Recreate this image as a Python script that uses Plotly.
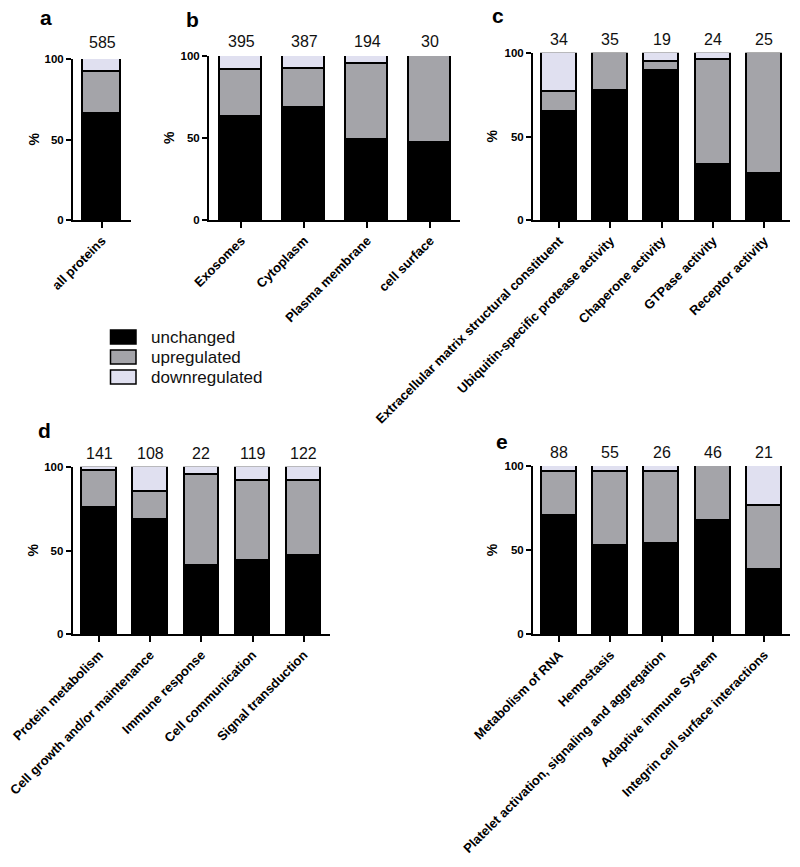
import plotly.graph_objects as go

W, H = 800, 867

# ---------------- data ----------------
series_names = ["unchanged", "upregulated", "downregulated"]

cats_a = ["all proteins"]
n_a = [585]
unch_a = [65.8]
up_a = [25.9]
down_a = [8.3]

cats_b = ["Exosomes", "Cytoplasm", "Plasma membrane", "cell surface"]
n_b = [395, 387, 194, 30]
unch_b = [62.8, 68.5, 48.8, 46.8]
up_b = [28.5, 23.4, 46.1, 53.2]
down_b = [8.7, 8.1, 5.1, 0]

cats_c = ["Extracellular matrix structural constituent",
          "Ubiquitin-specific protease activity",
          "Chaperone activity", "GTPase activity", "Receptor activity"]
n_c = [34, 35, 19, 24, 25]
unch_c = [64.7, 77.1, 89.5, 33.3, 28.0]
up_c = [11.8, 22.9, 5.3, 62.5, 72.0]
down_c = [23.5, 0, 5.2, 4.2, 0]

cats_d = ["Protein metabolism", "Cell growth and/or maintenance",
          "Immune response", "Cell communication", "Signal transduction"]
n_d = [141, 108, 22, 119, 122]
unch_d = [75.4, 68.6, 40.9, 44.1, 47.1]
up_d = [22.0, 16.5, 54.6, 47.5, 44.5]
down_d = [2.6, 14.9, 4.5, 8.4, 8.4]

cats_e = ["Metabolism of RNA", "Hemostasis",
          "Platelet activation, signaling and aggregation",
          "Adaptive immune System", "Integrin cell surface interactions"]
n_e = [88, 55, 26, 46, 21]
unch_e = [70.5, 52.7, 53.8, 67.4, 38.1]
up_e = [26.1, 43.7, 42.4, 32.6, 38.1]
down_e = [3.4, 3.6, 3.8, 0, 23.8]

panel_letters = ["a", "b", "c", "d", "e"]

# ---------------- style / layout ----------------
COLORS = ["#000000", "#a4a4a9", "#e0e0f0"]
FONT = "Arial, 'Liberation Sans', sans-serif"


def px_x(v):
    return v / W


def px_y(v):
    return 1 - v / H


panels = [
    dict(cats=cats_a, n=n_a, vals=[unch_a, up_a, down_a], xpx=(73, 131), ypx=(59, 220),
         xr=[-0.76, 0.76], bw=1.0, letter=(46, 17), pct=33, cnt_y=42.5),
    dict(cats=cats_b, n=n_b, vals=[unch_b, up_b, down_b], xpx=(209, 460), ypx=(56, 220),
         xr=[-0.51, 3.47], bw=0.667, letter=(192, 20), pct=169, cnt_y=41),
    dict(cats=cats_c, n=n_c, vals=[unch_c, up_c, down_c], xpx=(533, 790), ypx=(52.7, 220.3),
         xr=[-0.51, 4.5], bw=0.68, letter=(498, 15), pct=492, cnt_y=39),
    dict(cats=cats_d, n=n_d, vals=[unch_d, up_d, down_d], xpx=(72.7, 330), ypx=(466.7, 634.3),
         xr=[-0.52, 4.515], bw=0.675, letter=(44, 430), pct=32, cnt_y=453),
    dict(cats=cats_e, n=n_e, vals=[unch_e, up_e, down_e], xpx=(533, 790), ypx=(466, 634.3),
         xr=[-0.51, 4.5], bw=0.68, letter=(502, 442), pct=492, cnt_y=452.5),
]

fig = go.Figure()
annotations = []
shapes = []
layout_axes = {}

for i, p in enumerate(panels):
    k = "" if i == 0 else str(i + 1)
    xa, ya = "x" + k, "y" + k
    for s, (name, vals) in enumerate(zip(series_names, p["vals"])):
        fig.add_trace(go.Bar(
            x=p["cats"], y=[v if v > 0 else None for v in vals],
            name=name, xaxis=xa, yaxis=ya, width=p["bw"],
            marker=dict(color=COLORS[s], line=dict(color="black", width=1.6)),
            showlegend=False, cliponaxis=False, hoverinfo="skip",
        ))
    layout_axes["xaxis" + k] = dict(
        domain=[px_x(p["xpx"][0]), px_x(p["xpx"][1])], range=p["xr"], anchor=ya,
        automargin=False,
        showline=True, linecolor="black", linewidth=2, ticks="outside", ticklen=6,
        tickwidth=2, tickcolor="black", tickangle=-45, showgrid=False, zeroline=False,
        tickfont=dict(family=FONT, size=13, color="black", weight="bold"),
        fixedrange=True,
    )
    layout_axes["yaxis" + k] = dict(
        domain=[px_y(p["ypx"][1]), px_y(p["ypx"][0])], range=[0, 100], anchor=xa,
        automargin=False,
        tickvals=[0, 50, 100], showline=True, linecolor="black", linewidth=2,
        ticks="outside", ticklen=5, tickwidth=2, tickcolor="black",
        showgrid=False, zeroline=False,
        tickfont=dict(family=FONT, size=11.5, color="black", weight="bold"),
        fixedrange=True,
    )
    # panel letter
    annotations.append(dict(text=panel_letters[i], x=px_x(p["letter"][0]), y=px_y(p["letter"][1]),
                            xref="paper", yref="paper", showarrow=False,
                            xanchor="center", yanchor="middle",
                            font=dict(family=FONT, size=21, color="black", weight="bold")))
    # y title "%"
    ymid = (p["ypx"][0] + p["ypx"][1]) / 2
    annotations.append(dict(text="%", x=px_x(p["pct"]), y=px_y(ymid), xref="paper", yref="paper",
                            showarrow=False, textangle=-90, xanchor="center", yanchor="middle",
                            font=dict(family=FONT, size=14, color="black", weight="bold")))
    # counts above bars
    for c, n in zip(p["cats"], p["n"]):
        annotations.append(dict(text=str(n), x=c, xref=xa, y=px_y(p["cnt_y"]), yref="paper",
                                showarrow=False, xanchor="center", yanchor="middle",
                                font=dict(family=FONT, size=16, color="#111111")))

# legend (drawn as swatches + labels)
legend_rows_y = [337, 357, 377]
for s, (name, yc) in enumerate(zip(series_names, legend_rows_y)):
    shapes.append(dict(type="rect", xref="paper", yref="paper",
                       x0=px_x(110.5), x1=px_x(136), y0=px_y(yc + 7), y1=px_y(yc - 7),
                       fillcolor=COLORS[s], line=dict(color="black", width=1.5)))
    annotations.append(dict(text=name, x=px_x(149), y=px_y(yc), xref="paper", yref="paper",
                            showarrow=False, xanchor="left", yanchor="middle",
                            font=dict(family=FONT, size=17, color="#111111")))

fig.update_layout(
    template="none",
    width=W, height=H, margin=dict(l=0, r=0, t=0, b=0, autoexpand=False),
    paper_bgcolor="white", plot_bgcolor="white",
    barmode="stack", bargap=0, showlegend=False,
    font=dict(family=FONT, color="black"),
    annotations=annotations, shapes=shapes,
    **layout_axes,
)

fig.write_html("out.html", config={"displayModeBar": False},
               post_script="document.body.style.margin='0';document.body.style.overflow='hidden';")
